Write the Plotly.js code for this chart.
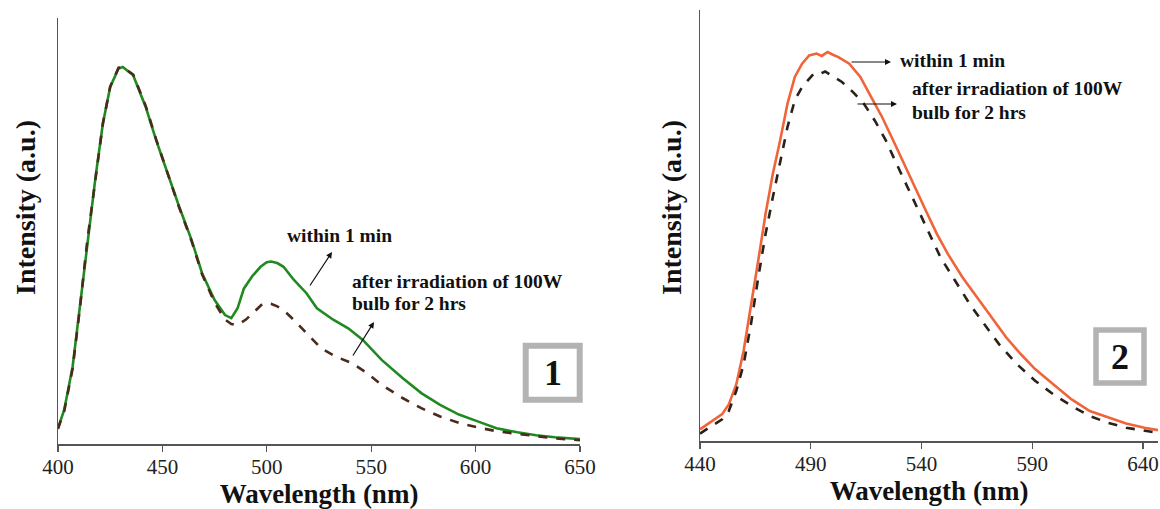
<!DOCTYPE html>
<html>
<head>
<meta charset="utf-8">
<script src="https://cdn.plot.ly/plotly-3.0.1.min.js"></script>
<style>html,body{margin:0;padding:0;background:#fff;}#chart{width:1160px;height:509px;}</style>
</head>
<body>
<div id="chart"></div>
<script>
// Panel 1 data (normalized intensity)
const wlGreen1 = [400,403,407,410.5,414,418,421.5,425,429,431,436,442,447,453,458,464,469,475,480,483,486,489,493,497,500,502,505,508,513,519,524,532,539,546,555,565,574,583,592,601,610,620,629,638,650];
const green1   = [0.042,0.091,0.205,0.365,0.541,0.709,0.85,0.947,0.996,1.0,0.978,0.894,0.806,0.709,0.63,0.541,0.453,0.382,0.342,0.334,0.36,0.412,0.445,0.47,0.482,0.484,0.48,0.47,0.435,0.40,0.36,0.329,0.307,0.276,0.223,0.175,0.135,0.104,0.078,0.06,0.042,0.031,0.023,0.018,0.013];
const wlBrown1 = [400,403,407,410.5,414,418,421.5,425,429,431,436,442,447,453,458,464,469,475,480,483,486,490,494,498,502,505,508,513,519,526,533,541,548,555,565,574,583,592,601,610,620,629,638,650];
const brown1   = [0.04,0.088,0.2,0.36,0.538,0.707,0.85,0.948,0.998,1.0,0.98,0.897,0.808,0.71,0.628,0.538,0.45,0.375,0.33,0.318,0.316,0.33,0.352,0.372,0.372,0.365,0.355,0.329,0.294,0.254,0.232,0.214,0.188,0.157,0.122,0.095,0.073,0.056,0.044,0.034,0.027,0.02,0.015,0.01];
// Panel 2 data (normalized intensity)
const wlOrange2 = [440,445,450,453,456.4,459.7,463,466.3,469.6,472.9,476.2,479.5,482.8,486.1,489.3,492.6,495,497.6,500,502.5,507.4,512.4,517.3,522.2,527.2,532.1,537.1,542,547,551.9,558.5,565.1,571.7,578.3,584.9,591.3,599.5,607.8,616,624.2,632.4,640.7,646.8];
const orange2   = [0.03,0.05,0.069,0.094,0.146,0.232,0.343,0.464,0.584,0.687,0.773,0.867,0.936,0.97,0.991,0.996,0.99,1.0,0.993,0.987,0.97,0.936,0.884,0.833,0.773,0.712,0.652,0.592,0.532,0.481,0.421,0.369,0.318,0.266,0.223,0.185,0.146,0.107,0.077,0.06,0.045,0.034,0.028];
const wlBlack2 = [440,445,450,453,456.4,459.7,463,466.3,469.6,472.9,476.2,479.5,482.8,486.1,489.3,491.5,494.3,496.5,499.2,504.1,509.1,514,518.9,523.9,528.8,533.8,538.7,543.6,548.6,555.2,561.8,568.4,575,583.2,591.3,599.5,607.8,616,624.2,632.4,640.7,646.8];
const black2   = [0.019,0.038,0.056,0.077,0.129,0.197,0.30,0.42,0.532,0.627,0.721,0.807,0.876,0.91,0.931,0.945,0.944,0.95,0.94,0.923,0.897,0.867,0.824,0.773,0.712,0.652,0.592,0.532,0.472,0.412,0.352,0.30,0.249,0.197,0.155,0.12,0.09,0.064,0.047,0.034,0.026,0.021];

const ticks1 = [400,450,500,550,600,650];
const ticks2 = [440,490,540,590,640];

const FONT = "Liberation Serif, 'Times New Roman', serif";

const traces = [
  {x: wlGreen1, y: green1, type:'scatter', mode:'lines', line:{color:'#1f8a1f', width:2.6}, xaxis:'x', yaxis:'y', name:'within 1 min'},
  {x: wlBrown1, y: brown1, type:'scatter', mode:'lines', line:{color:'#4a2a1c', width:2.6, dash:'dash'}, xaxis:'x', yaxis:'y', name:'after irradiation'},
  {x: wlOrange2, y: orange2, type:'scatter', mode:'lines', line:{color:'#f0643a', width:2.6}, xaxis:'x2', yaxis:'y2', name:'within 1 min'},
  {x: wlBlack2, y: black2, type:'scatter', mode:'lines', line:{color:'#2a2118', width:2.6, dash:'dash'}, xaxis:'x2', yaxis:'y2', name:'after irradiation'}
];

function xax(domain, range, tv, anchor){
  return {domain: domain, range: range, anchor: anchor, tickvals: tv, ticktext: tv.map(String),
    showline:true, linecolor:'#555', linewidth:1.5, ticks:'outside', ticklen:6, tickcolor:'#555', tickwidth:1.3,
    ticklabelstandoff:-3,
    showgrid:false, zeroline:false, tickfont:{family:FONT, size:21, color:'#222'},
    title:{text:'<b>Wavelength (nm)</b>', font:{family:FONT, size:27, color:'#111'}, standoff:4}};
}
function yax(domain, range, anchor){
  return {domain: domain, range: range, anchor: anchor, showline:true, linecolor:'#555', linewidth:1.5,
    ticks:'', showticklabels:false, showgrid:false, zeroline:false};
}

const A = (t, x, y, xa) => ({text:'<b>'+t+'</b>', xref:'paper', yref:'paper', x:x/1160, y:1-y/509, xanchor:xa, yanchor:'middle', showarrow:false, font:{family:FONT, size:19.5, color:'#111'}});
const ARR = (hx, hy, ax, ay) => ({text:'', xref:'paper', yref:'paper', x:hx/1160, y:1-hy/509, ax:ax, ay:ay, showarrow:true, arrowhead:2, arrowsize:1, arrowwidth:1.2, arrowcolor:'#111'});
const YT = (x, y) => ({text:'<b>Intensity (a.u.)</b>', xref:'paper', yref:'paper', x:x/1160, y:1-y/509, xanchor:'center', yanchor:'middle', textangle:-90, showarrow:false, font:{family:FONT, size:28, color:'#111'}});

const layout = {
  width:1160, height:509, margin:{l:0,r:0,t:0,b:0}, showlegend:false,
  paper_bgcolor:'#fff', plot_bgcolor:'rgba(0,0,0,0)', font:{family:FONT},
  xaxis: xax([58/1160, 580/1160], [400,650], ticks1, 'y'),
  yaxis: yax([(509-444)/509, (509-18)/509], [0, 1.13], 'x'),
  xaxis2: xax([700/1160, 1158/1160], [440,646.8], ticks2, 'y2'),
  yaxis2: yax([(509-441)/509, (509-10)/509], [0, 1.108], 'x2'),
  annotations: [
    YT(25, 208),
    YT(671, 208),
    A('within 1 min', 340, 235, 'center'),
    ARR(332, 252, -23, 35),
    A('after irradiation of 100W', 350, 281, 'left'),
    A('bulb for 2 hrs', 350, 303, 'left'),
    ARR(374, 322, -22, 35),
    A('within 1 min', 898, 61, 'left'),
    ARR(891, 62, -41, 0),
    A('after irradiation of 100W', 910, 89, 'left'),
    A('bulb for 2 hrs', 910, 113, 'left'),
    ARR(897, 104, -41, 0),
    {text:'<b>1</b>', xref:'paper', yref:'paper', x:552.7/1160, y:1-372.7/509, xanchor:'center', yanchor:'middle', showarrow:false, font:{family:FONT, size:36, color:'#111'}},
    {text:'<b>2</b>', xref:'paper', yref:'paper', x:1120/1160, y:1-356.5/509, xanchor:'center', yanchor:'middle', showarrow:false, font:{family:FONT, size:36, color:'#111'}}
  ],
  shapes: [
    {type:'rect', xref:'paper', yref:'paper', x0:525.7/1160, x1:579.7/1160, y0:1-399.7/509, y1:1-345.7/509, line:{color:'#b3b3b3', width:6}},
    {type:'rect', xref:'paper', yref:'paper', x0:1096/1160, x1:1144/1160, y0:1-383/509, y1:1-330/509, line:{color:'#b3b3b3', width:5.5}}
  ]
};

Plotly.newPlot('chart', traces, layout, {displayModeBar:false, staticPlot:true});
</script>
</body>
</html>
